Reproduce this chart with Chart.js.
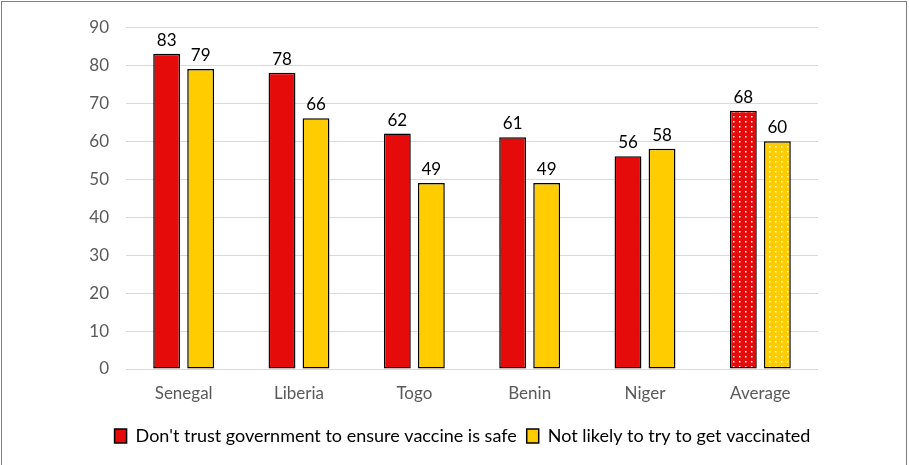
<!DOCTYPE html>
<html><head><meta charset="utf-8">
<script src="https://cdn.jsdelivr.net/npm/chart.js@4/dist/chart.umd.min.js"></script>
<style>html,body{margin:0;padding:0;background:#fff}#wrap{width:909px;height:465px;position:relative}</style>
</head><body><div id="wrap"><canvas id="c" width="909" height="465"></canvas></div>
<script>
const categories = ['Senegal','Liberia','Togo','Benin','Niger','Average'];
const distrustGov = [83,78,62,61,56,68];
const notLikelyVax = [79,66,49,49,58,60];
const seriesNames = ["Don't trust government to ensure vaccine is safe","Not likely to try to get vaccinated"];
const yTicks = [0,10,20,30,40,50,60,70,80,90];

const RED = '#E60B0B', YEL = '#FFCC00';
function dotPattern(color){
  const p = document.createElement('canvas'); p.width = 6; p.height = 5;
  const g = p.getContext('2d');
  g.fillStyle = color; g.fillRect(0,0,6,5);
  g.fillStyle = '#ffffff';
  g.fillRect(1,1,1.5,1.5);
  return g.createPattern(p,'repeat');
}
const ctx = document.getElementById('c').getContext('2d');
const redPat = dotPattern(RED), yelPat = dotPattern(YEL);
const last = categories.length - 1;
const font = "Lato, 'Open Sans', sans-serif";

const framePlugin = {
  id:'frame',
  afterDraw(chart){
    const c = chart.ctx; c.save();
    c.strokeStyle = '#7f7f7f'; c.lineWidth = 1;
    c.strokeRect(1.5,1.5,905,470);
    c.restore();
  }
};
const labelPlugin = {
  id:'vals',
  afterDatasetsDraw(chart){
    const c = chart.ctx; c.save();
    c.font = "17px " + font; c.fillStyle = '#000'; c.textAlign = 'center'; c.textBaseline = 'alphabetic';
    chart.data.datasets.forEach((ds,i)=>{
      chart.getDatasetMeta(i).data.forEach((bar,j)=>{
        c.fillText(String(ds.data[j]), bar.x, bar.y - 8);
      });
    });
    c.restore();
  }
};

new Chart(ctx,{
  type:'bar',
  data:{
    labels:categories,
    datasets:[
      {label:seriesNames[0], data:distrustGov,
        backgroundColor:distrustGov.map((v,i)=> i===last ? redPat : RED),
        borderColor:'#000', borderWidth:1.5, borderSkipped:false,
        categoryPercentage:0.59, barPercentage:0.79},
      {label:seriesNames[1], data:notLikelyVax,
        backgroundColor:notLikelyVax.map((v,i)=> i===last ? yelPat : YEL),
        borderColor:'#000', borderWidth:1.5, borderSkipped:false,
        categoryPercentage:0.59, barPercentage:0.79}
    ]
  },
  options:{
    responsive:false, animation:false,
    layout:{padding:{left:16,right:0,top:20,bottom:10}},
    plugins:{
      tooltip:{enabled:false},
      legend:{position:'bottom',
        labels:{font:{family:font,size:18},color:'#404040',boxWidth:12,boxHeight:14,padding:10,
          generateLabels(chart){
            return chart.data.datasets.map((ds,i)=>({text:ds.label, fillStyle:i===0?RED:YEL, strokeStyle:'#000', lineWidth:1.5, datasetIndex:i, hidden:false}));
          }}
      }
    },
    scales:{
      x:{grid:{display:false}, border:{display:false},
        ticks:{font:{family:font,size:17},color:'#595959',padding:6},
        afterFit(s){ s.height = 48; }},
      y:{min:0,max:90, border:{display:false},
        grid:{color:'#d9d9d9',lineWidth:1,drawTicks:false},
        afterBuildTicks(s){ s.ticks = yTicks.map(v=>({value:v})); },
        ticks:{font:{family:font,size:17},color:'#595959',padding:17},
        afterFit(s){ s.width = 110; }},
      y2:{position:'right', display:true, grid:{display:false}, border:{display:false}, ticks:{display:false},
        afterFit(s){ s.width = 91; }}
    }
  },
  plugins:[framePlugin,labelPlugin]
});
</script></body></html>
